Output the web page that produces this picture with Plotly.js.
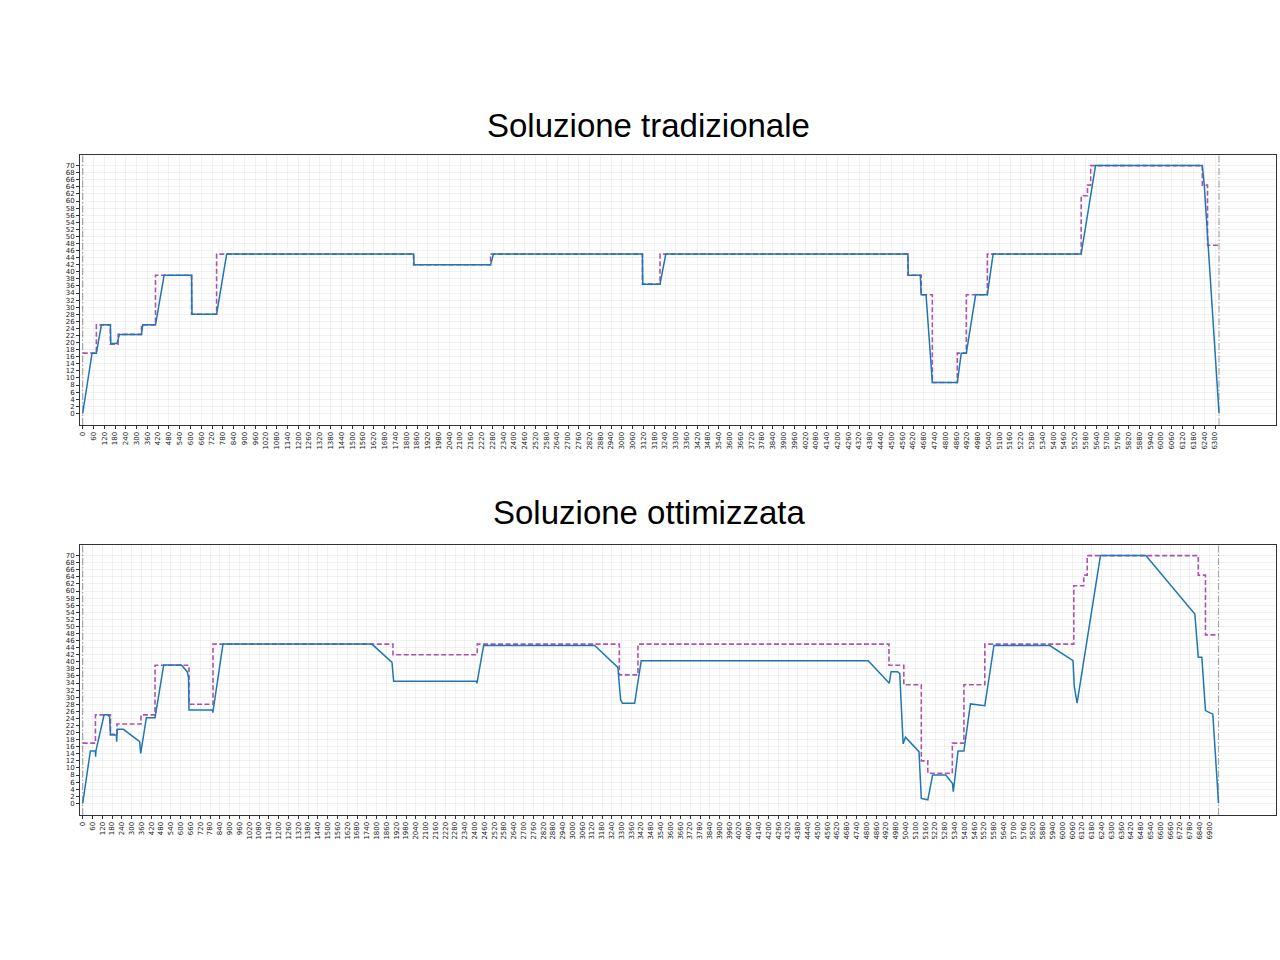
<!DOCTYPE html>
<html>
<head>
<meta charset="utf-8">
<script src="https://cdn.plot.ly/plotly-3.0.1.min.js"></script>
<style>html,body{margin:0;padding:0;background:#fff;}#chart{width:1280px;height:960px;}</style>
</head>
<body>
<div id="chart"></div>
<script>
// ---- Soluzione tradizionale ----
const tradTime = [0,52,76,104,154,156,190,205,327,334,405,453,606,608,745,801,1841,1843,2269,2285,3114,3116,3212,3244,4591,4593,4660,4665,4692,4727,4866,4888,4916,4968,5033,5065,5555,5635,6229,6240,6322];
const tradSpeed = [0,17,17,25,25,19.7,19.7,22.3,22.3,25,25,39,39,28,28,45,45,42,42,45,45,36.5,36.5,45,45,39,39,33.5,33.5,8.7,8.7,17,17,33.5,33.5,45,45,70,70,64.5,0];
const tradLimTime = [0,76,154,197,327,405,606,745,1841,2269,3114,3212,4591,4665,4727,4866,4916,5033,5555,5590,5608,6229,6258,6322];
const tradLimit = [17,25,19.5,22.3,25,39,28,45,42,45,36.5,45,39,33.5,8.7,17,33.5,45,61.5,64.5,70,64.5,47.5,47.5];
const tradEnd = 6322;
const tradTicks = [];
for (let t = 0; t <= 6300; t += 60) tradTicks.push(t);

// ---- Soluzione ottimizzata ----
const optTime = [0,47,77,79,81,131,155,165,170,206,208,212,222,249,349,355,390,443,496,604,640,648,651,794,797,859,1771,1894,1904,2410,2414,2455,3135,3277,3294,3305,3380,3420,4810,4939,4950,4989,5003,5024,5038,5121,5135,5175,5204,5285,5326,5331,5360,5396,5436,5524,5580,5922,6064,6072,6089,6232,6510,6810,6831,6853,6875,6920,6955];
const optSpeed = [0,14.8,14.8,13.2,14.8,25,25,24.4,19.3,19.3,17.4,20.9,20.9,20.9,17.4,14.1,24.2,24.2,39.1,39.1,37.2,35.5,26.4,26.4,25.6,45,45,39.8,34.5,34.5,33.9,44.6,44.6,38.4,29.2,28.3,28.3,40.3,40.3,33.9,37.2,37.2,36.7,16.8,18.7,14.6,1.4,1.0,8.0,8.0,5.6,3.3,14.8,14.8,28.1,27.6,44.6,44.6,40.3,33,28.3,70,70,53.5,41.3,41.3,26.2,25.2,0];
const optLimTime = [0,78,170,210,357,443,651,798,1900,2416,3286,3400,4937,5028,5135,5175,5325,5396,5524,6069,6130,6151,6831,6875,6955];
const optLimit = [17,25,19.5,22.4,25,39,28,45,42,45,36.3,45,39,33.5,12,8.5,17,33.5,45,61.5,64.5,70,64.5,47.6,47.6];
const optEnd = 6955;
const optTicks = [];
for (let t = 0; t <= 6900; t += 60) optTicks.push(t);

const yTicks = [];
for (let v = 0; v <= 70; v += 2) yTicks.push(v);

const blue = '#1f77b4';
const purple = 'rgba(139,0,139,0.68)';
const gridC = 'rgba(0,0,0,0.05)';
const tickFont = {family: 'DejaVu Sans, sans-serif', size: 7, color: '#222'};

const traces = [
  {x: tradLimTime, y: tradLimit, xaxis: 'x', yaxis: 'y', mode: 'lines', line: {shape: 'hv', color: purple, width: 1.6, dash: '5px,2.5px'}, hoverinfo: 'skip'},
  {x: tradTime, y: tradSpeed, xaxis: 'x', yaxis: 'y', mode: 'lines', line: {color: blue, width: 1.5}},
  {x: optLimTime, y: optLimit, xaxis: 'x2', yaxis: 'y2', mode: 'lines', line: {shape: 'hv', color: purple, width: 1.6, dash: '5px,2.5px'}, hoverinfo: 'skip'},
  {x: optTime, y: optSpeed, xaxis: 'x2', yaxis: 'y2', mode: 'lines', line: {color: blue, width: 1.5}}
];

function xAxis(ticks, range, anchor) {
  return {
    domain: [0, 1], anchor: anchor, range: range,
    tickmode: 'array', tickvals: ticks, ticktext: ticks.map(String),
    tickangle: -90, tickfont: tickFont, ticks: 'outside', ticklen: 3, tickcolor: '#333',
    showgrid: true, gridcolor: gridC, gridwidth: 1, zeroline: false,
    showline: true, linecolor: '#333', linewidth: 1, mirror: true
  };
}
function yAxis(domain, anchor) {
  return {
    domain: domain, anchor: anchor, range: [-3.3, 73.0],
    tickmode: 'array', tickvals: yTicks, ticktext: yTicks.map(String),
    tickfont: tickFont, ticks: 'outside', ticklen: 3, tickcolor: '#333',
    showgrid: true, gridcolor: gridC, gridwidth: 1, zeroline: false,
    showline: true, linecolor: '#333', linewidth: 1, mirror: true
  };
}

const vline = (xv, xr, yr) => ({type: 'line', xref: xr, yref: yr + ' domain', x0: xv, x1: xv, y0: 0, y1: 1,
  line: {color: '#aaaaaa', width: 1.2, dash: '7px,2px,1.5px,2px'}, layer: 'below'});

const titleFont = {family: 'Liberation Sans, Arial, sans-serif', size: 33, color: '#000'};

const layout = {
  width: 1280, height: 960,
  margin: {l: 80, r: 4, t: 0, b: 0},
  paper_bgcolor: '#fff', plot_bgcolor: '#fff',
  showlegend: false,
  xaxis: xAxis(tradTicks, [-15, 6639], 'y'),
  yaxis: yAxis([1 - 425/960, 1 - 155/960], 'x'),
  xaxis2: xAxis(optTicks, [-16.5, 7307], 'y2'),
  yaxis2: yAxis([1 - 815/960, 1 - 545/960], 'x2'),
  shapes: [vline(0, 'x', 'y'), vline(tradEnd, 'x', 'y'), vline(0, 'x2', 'y2'), vline(optEnd, 'x2', 'y2')],
  annotations: [
    {text: 'Soluzione tradizionale', xref: 'paper', yref: 'paper', x: (648-80)/1196, y: 1 - 125/960,
     xanchor: 'center', yanchor: 'middle', showarrow: false, font: titleFont},
    {text: 'Soluzione ottimizzata', xref: 'paper', yref: 'paper', x: (649-80)/1196, y: 1 - 512/960,
     xanchor: 'center', yanchor: 'middle', showarrow: false, font: titleFont}
  ]
};

Plotly.newPlot('chart', traces, layout, {staticPlot: true, displayModeBar: false});
</script>
</body>
</html>
